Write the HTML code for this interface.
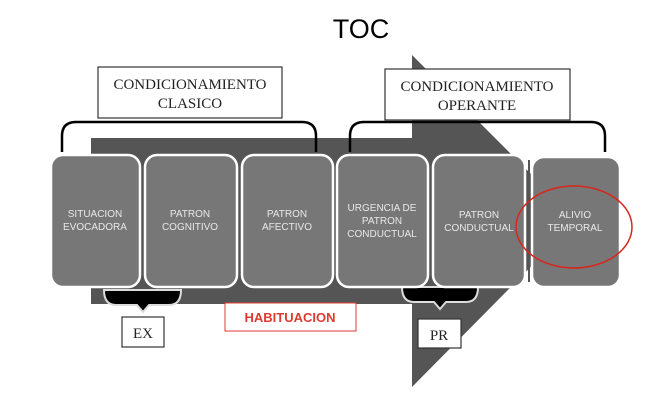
<!DOCTYPE html>
<html><head><style>
body{margin:0;background:#fff;width:669px;height:415px;overflow:hidden}
svg{display:block}
.bx{fill:#777;stroke:#fff;stroke-width:2.5}
.t{font-family:"Liberation Sans",sans-serif;font-size:10px;fill:#e8e8e8;text-anchor:middle}
.s{font-family:"Liberation Serif",serif;font-size:15px;fill:#222;text-anchor:middle}
</style></head><body>
<svg width="669" height="415" viewBox="0 0 669 415">
<text x="361" y="38" font-family="Liberation Sans,sans-serif" font-size="27" text-anchor="middle" fill="#000">TOC</text>
<polygon points="91,138 412,138 412,55 577,220 412,387 412,304 91,304" fill="#555"/>
<path d="M62,152 V136 Q62,122 76,122 H302 Q316,122 316,136 V152" fill="none" stroke="#000" stroke-width="2.5"/>
<path d="M350,152 V136 Q350,122 364,122 H591 Q605,122 605,136 V152" fill="none" stroke="#000" stroke-width="2.5"/>
<path d="M104,290 Q104,305 116,305 H137 L143,312 L149,305 H169 Q181,305 181,290 Z" fill="#000" stroke="#ddd" stroke-width="2"/>
<path d="M402,287 Q402,302 414,302 H434 L440,309 L446,302 H466 Q478,302 478,287 Z" fill="#000" stroke="#ddd" stroke-width="2"/>
<rect class="bx" x="51" y="155" width="89" height="132" rx="12"/>
<rect class="bx" x="145" y="155" width="92" height="132" rx="12"/>
<rect class="bx" x="242" y="155" width="91" height="132" rx="12"/>
<rect class="bx" x="337" y="155" width="91" height="132" rx="12"/>
<rect class="bx" x="433" y="155" width="92" height="132" rx="12"/>
<rect x="528" y="160" width="2" height="122" fill="#555"/>
<rect class="bx" x="532" y="157" width="88" height="130" rx="12"/>
<text class="t" x="95" y="217">SITUACION</text><text class="t" x="95" y="230">EVOCADORA</text>
<text class="t" x="190" y="217">PATRON</text><text class="t" x="190" y="230">COGNITIVO</text>
<text class="t" x="287" y="217">PATRON</text><text class="t" x="287" y="230">AFECTIVO</text>
<text class="t" x="382" y="211">URGENCIA DE</text><text class="t" x="382" y="224">PATRON</text><text class="t" x="382" y="237">CONDUCTUAL</text>
<text class="t" x="479" y="218">PATRON</text><text class="t" x="479" y="231">CONDUCTUAL</text>
<text class="t" x="575" y="218">ALIVIO</text><text class="t" x="575" y="231">TEMPORAL</text>
<ellipse cx="574" cy="227" rx="58" ry="41" fill="none" stroke="#d9261c" stroke-width="1.5"/>
<rect x="98" y="67" width="184" height="51" fill="#fff" stroke="#333" stroke-width="1.2"/>
<text class="s" x="190" y="89">CONDICIONAMIENTO</text><text class="s" x="190" y="108">CLASICO</text>
<rect x="385" y="69" width="185" height="51" fill="#fff" stroke="#333" stroke-width="1.2"/>
<text class="s" x="477" y="91">CONDICIONAMIENTO</text><text class="s" x="477" y="110">OPERANTE</text>
<rect x="122" y="317" width="42" height="30" fill="#fff" stroke="#333" stroke-width="1.2"/>
<text class="s" x="143" y="338">EX</text>
<rect x="418" y="319" width="43" height="29" fill="#fff" stroke="#333" stroke-width="1.2"/>
<text class="s" x="439" y="340">PR</text>
<rect x="225" y="303" width="131" height="28" fill="#fff" stroke="#e03a30" stroke-width="1"/>
<text x="290" y="322" font-family="Liberation Sans,sans-serif" font-size="13" font-weight="bold" fill="#e03a30" text-anchor="middle">HABITUACION</text>
</svg>
</body></html>
